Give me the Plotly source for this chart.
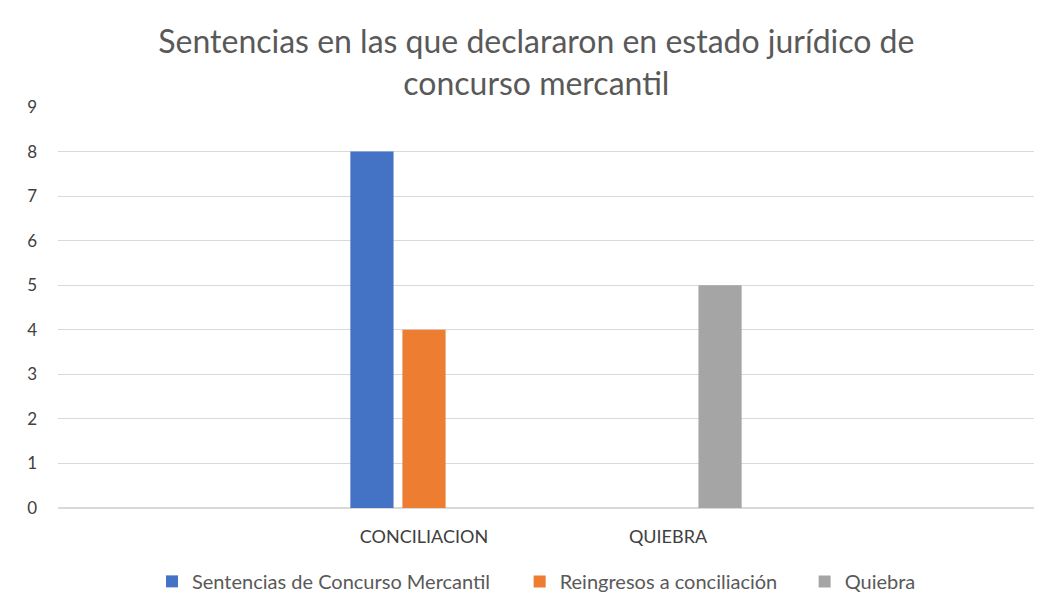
import plotly.graph_objects as go

categories = ["CONCILIACION", "QUIEBRA"]
series_names = ["Sentencias de Concurso Mercantil", "Reingresos a conciliación", "Quiebra"]
sentencias = [8, 0]
reingresos = [4, 0]
quiebra = [0, 5]
y_ticks = [0, 1, 2, 3, 4, 5, 6, 7, 8, 9]

colors = ["#4472C4", "#ED7D31", "#A5A5A5"]
legend_ids = ["legend", "legend2", "legend3"]
legend_x = [0.0963, 0.473, 0.765]

fig = go.Figure()
for name, vals, col, lg in zip(series_names, [sentencias, reingresos, quiebra], colors, legend_ids):
    fig.add_trace(go.Bar(x=categories, y=vals, name=name, legend=lg, showlegend=True,
                         marker=dict(color=col, line=dict(width=0))))

legend_style = dict(orientation="h", xanchor="left", y=-0.183, yanchor="middle",
                    font=dict(size=20, color="#595959"), bgcolor="rgba(0,0,0,0)")

fig.update_layout(
    width=1036, height=606, showlegend=True,
    paper_bgcolor="white", plot_bgcolor="white",
    margin=dict(l=50, r=10, t=99, b=106),
    barmode="group", bargap=0.36, bargroupgap=0.17,
    font=dict(family="Lato", color="#595959", size=13),
    title=dict(
        text="Sentencias en las que declararon en estado jurídico de<br>concurso mercantil",
        x=0.51, xanchor="center", yref="container", y=0.925, yanchor="top",
        font=dict(family="Lato", size=32, color="#595959"),
    ),
    xaxis=dict(type="category", categoryorder="array", categoryarray=categories,
               range=[-1.5, 2.5], showgrid=False, showline=False, ticks="",
               ticklabelstandoff=16, tickfont=dict(size=18, color="#404040")),
    yaxis=dict(range=[0, 9], tickvals=y_ticks, showgrid=True, gridcolor="#D9D9D9",
               gridwidth=1, zeroline=True, zerolinecolor="#D9D9D9", showline=False,
               ticks="", ticklabelstandoff=20, tickfont=dict(size=17, color="#404040")),
    legend=dict(x=legend_x[0], **legend_style),
    legend2=dict(x=legend_x[1], **legend_style),
    legend3=dict(x=legend_x[2], **legend_style),
)

fig.write_html("out.html")
